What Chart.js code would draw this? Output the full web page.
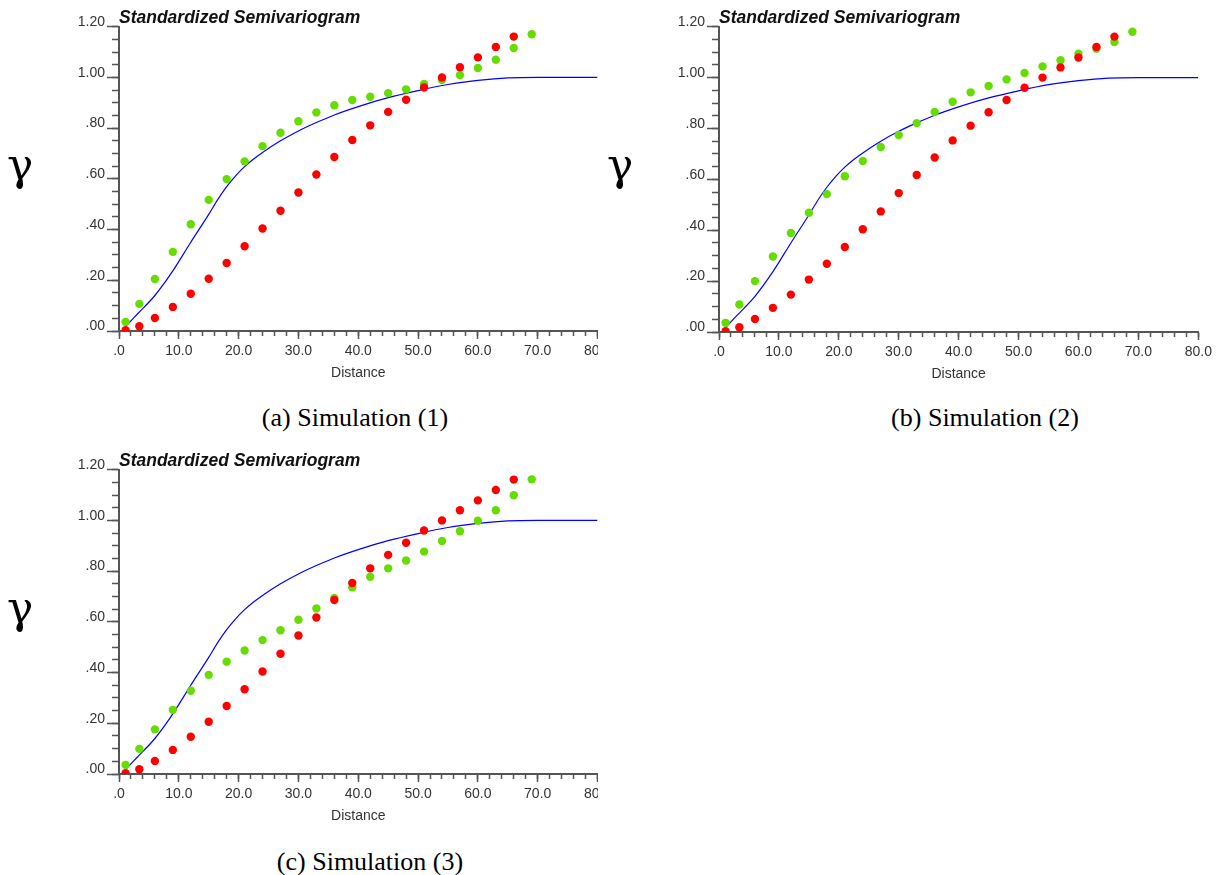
<!DOCTYPE html>
<html>
<head>
<meta charset="utf-8">
<script src="https://cdn.jsdelivr.net/npm/chart.js@4.4.1/dist/chart.umd.min.js"></script>
<style>
  body { margin: 0; background: #fff; width: 1223px; height: 875px; position: relative; overflow: hidden; }
  .panel { position: absolute; overflow: hidden; }
  .panel canvas { display: block; }
  .gamma { position: absolute; font-family: "DejaVu Serif", "Liberation Serif", serif; font-size: 44px; line-height: 44px; color: #000; }
  .caption { position: absolute; width: 400px; text-align: center; font-family: "Liberation Serif", "Times New Roman", serif; font-size: 26px; line-height: 30px; color: #000; }
</style>
</head>
<body>

<div class="panel" style="left:0px;top:0px;width:598px;height:391px"><canvas id="chartA" width="625" height="391"></canvas></div>
<div class="panel" style="left:600px;top:0px;width:623px;height:392px"><canvas id="chartB" width="623" height="392"></canvas></div>
<div class="panel" style="left:0px;top:443px;width:598px;height:391px"><canvas id="chartC" width="625" height="391"></canvas></div>

<div class="gamma" style="left:7px;top:143px">γ</div>
<div class="gamma" style="left:607px;top:143px">γ</div>
<div class="gamma" style="left:7px;top:586px">γ</div>

<div class="caption" style="left:155px;top:403px">(a) Simulation (1)</div>
<div class="caption" style="left:785px;top:403px">(b) Simulation (2)</div>
<div class="caption" style="left:170px;top:847px">(c) Simulation (3)</div>

<script>
// lag distances of the experimental points
var lags = [1.1, 3.4, 6, 9, 12, 15, 18, 21, 24, 27, 30, 33, 36, 39, 42, 45, 48, 51, 54, 57, 60, 63, 66, 69];

// red points (same in every panel)
var observed = [0.003, 0.019, 0.051, 0.095, 0.147, 0.206, 0.268, 0.334, 0.404, 0.474, 0.546, 0.617,
                0.686, 0.753, 0.811, 0.864, 0.912, 0.960, 1.000, 1.040, 1.079, 1.120, 1.161];

// green points, one list per simulation
var sim1 = [0.036, 0.107, 0.205, 0.312, 0.421, 0.517, 0.599, 0.669, 0.729, 0.782, 0.827, 0.862,
            0.890, 0.911, 0.924, 0.938, 0.953, 0.974, 0.990, 1.009, 1.037, 1.070, 1.116, 1.170];
var sim2 = [0.036, 0.108, 0.200, 0.297, 0.389, 0.469, 0.542, 0.612, 0.672, 0.727, 0.774, 0.821,
            0.865, 0.905, 0.942, 0.967, 0.993, 1.018, 1.044, 1.068, 1.094, 1.113, 1.140, 1.180];
var sim3 = [0.036, 0.099, 0.176, 0.253, 0.328, 0.391, 0.443, 0.487, 0.528, 0.567, 0.608, 0.653,
            0.694, 0.736, 0.778, 0.811, 0.842, 0.877, 0.919, 0.957, 0.999, 1.040, 1.099, 1.162];

// blue model curve
var modelDist  = [1.2, 3, 6, 9, 12, 15, 16.5, 18, 19.5, 21, 22.5, 24, 27, 30, 33, 36, 40, 45, 50, 55, 60, 65, 70, 80];
var modelGamma = [0.02, 0.065, 0.14, 0.237, 0.35, 0.46, 0.518, 0.569, 0.612, 0.648, 0.678, 0.704, 0.75, 0.789,
                  0.822, 0.852, 0.885, 0.92, 0.948, 0.972, 0.988, 0.998, 1.0, 1.0];

var xTicks = ['.0', '10.0', '20.0', '30.0', '40.0', '50.0', '60.0', '70.0', '80.0'];
var yTicks = ['.00', '.20', '.40', '.60', '.80', '1.00', '1.20'];

var axisColor = '#555';
var labelFont = { family: 'Liberation Sans, Arial, sans-serif', size: 14 };

function pts(xs, ys) {
    return ys.map(function (v, i) { return { x: xs[i], y: v }; });
}

function makeChart(id, sim, rightPad) {
    var ctx = document.getElementById(id).getContext('2d');
    return new Chart(ctx, {
        type: 'scatter',
        data: {
            datasets: [{
                label: 'Observed',
                data: pts(lags, observed),
                backgroundColor: '#ff0000',
                borderColor: '#ff0000',
                borderWidth: 0,
                pointRadius: 4.2,
                xAxisID: 'x', yAxisID: 'y',
                order: 0
            }, {
                label: 'Simulated',
                data: pts(lags, sim),
                backgroundColor: '#66dd00',
                borderColor: '#66dd00',
                borderWidth: 0,
                pointRadius: 4.2,
                xAxisID: 'x', yAxisID: 'y',
                order: 1
            }, {
                type: 'line',
                label: 'Model',
                data: pts(modelDist, modelGamma),
                borderColor: '#0000ff',
                borderWidth: 1.2,
                pointRadius: 0,
                fill: false,
                cubicInterpolationMode: 'monotone',
                xAxisID: 'x', yAxisID: 'y',
                order: 2
            }]
        },
        options: {
            responsive: false,
            animation: false,
            events: [],
            layout: { padding: { left: 0, right: rightPad, top: 0, bottom: 0 } },
            plugins: {
                legend: { display: false },
                tooltip: { enabled: false },
                title: {
                    display: true,
                    text: 'Standardized Semivariogram',
                    align: 'start',
                    fullSize: false,
                    color: '#111',
                    font: { family: 'Liberation Sans, Arial, sans-serif', size: 17.5, style: 'italic', weight: 'bold', lineHeight: 1 },
                    padding: { top: 9.2, bottom: 0 }
                }
            },
            scales: {
                x: {
                    type: 'linear', position: 'bottom', weight: 1,
                    min: 0, max: 80,
                    ticks: {
                        stepSize: 10, autoSkip: false, maxRotation: 0, padding: 4,
                        color: '#333', font: labelFont,
                        callback: function (v) { return xTicks[Math.round(v / 10)]; }
                    },
                    grid: { drawOnChartArea: false, tickLength: 8, tickColor: axisColor, tickWidth: 1.5 },
                    border: { color: axisColor, width: 2 },
                    title: { display: true, text: 'Distance', color: '#333', font: labelFont, padding: { top: 0, bottom: 9 } },
                    afterFit: function (s) { s.height = 60; }
                },
                xMinor: {
                    type: 'linear', position: 'bottom', weight: 0,
                    min: 0, max: 80,
                    ticks: { stepSize: 2, display: false },
                    grid: { drawOnChartArea: false, tickLength: 5, tickColor: axisColor, tickWidth: 1.5 },
                    border: { display: false },
                    afterFit: function (s) { s.height = 0; }
                },
                y: {
                    type: 'linear', position: 'left', weight: 1,
                    min: 0, max: 1.2,
                    ticks: {
                        stepSize: 0.2, padding: 2, labelOffset: -4.5,
                        color: '#333', font: labelFont,
                        callback: function (v) { return yTicks[Math.round(v / 0.2)]; }
                    },
                    grid: { drawOnChartArea: false, tickLength: 12, tickColor: axisColor, tickWidth: 1.5 },
                    border: { color: axisColor, width: 2 },
                    afterFit: function (s) { s.width = 119; }
                },
                yMinor: {
                    type: 'linear', position: 'left', weight: 0,
                    min: 0, max: 1.2,
                    ticks: { stepSize: 0.05, display: false },
                    grid: { drawOnChartArea: false, tickLength: 7, tickColor: axisColor, tickWidth: 1.5 },
                    border: { display: false },
                    afterFit: function (s) { s.width = 0; }
                }
            }
        }
    });
}

makeChart('chartA', sim1, 27.5);
makeChart('chartB', sim2, 24.7);
makeChart('chartC', sim3, 27.5);
</script>
</body>
</html>
